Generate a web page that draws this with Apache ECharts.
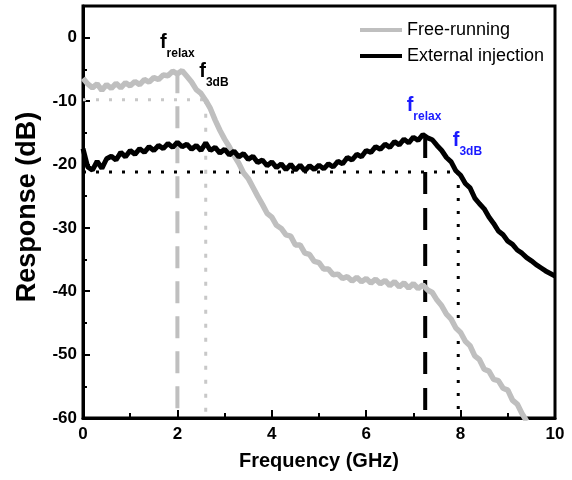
<!DOCTYPE html>
<html>
<head>
<meta charset="utf-8">
<script src="https://cdn.jsdelivr.net/npm/echarts@6/dist/echarts.min.js"></script>
<style>
  html, body { margin: 0; padding: 0; background: #fff; }
  #chart { width: 572px; height: 480px; }
</style>
</head>
<body>
<div id="chart"></div>
<script>
// Frequency response of the laser, free-running vs. under external injection
const freqStep = 0.1; // GHz between samples

// Free-running response (dB), sampled from 0 to 9.4 GHz
const freeRunning = [
  -6.4, -7.3, -7.9, -7.3, -8.3, -7.4, -8.0, -7.2, -7.9, -7.1,
  -7.6, -6.9, -7.4, -6.6, -7.0, -6.3, -6.6, -5.9, -6.0, -5.3,
  -5.7, -5.2, -6.1, -7.0, -8.2, -8.8, -9.9, -11.2, -13.0, -14.6,
  -16.0, -17.2, -18.6, -19.8, -21.3, -22.2, -23.6, -25.0, -26.3, -27.7,
  -28.3, -29.6, -30.1, -31.1, -31.3, -32.7, -32.7, -34.0, -34.2, -35.3,
  -35.5, -36.5, -36.5, -37.4, -37.3, -38.0, -37.7, -38.4, -37.8, -38.5,
  -38.0, -38.7, -38.1, -38.8, -38.3, -39.1, -38.5, -39.3, -38.7, -39.5,
  -38.8, -39.6, -39.0, -39.8, -40.2, -41.4, -42.3, -43.6, -44.4, -45.8,
  -46.5, -47.9, -48.6, -50.2, -50.8, -52.3, -52.6, -53.9, -54.1, -55.3,
  -55.6, -57.2, -57.8, -59.3, -60.5
];

// Response under external injection (dB), sampled from 0 to 10 GHz
const externalInjection = [
  -17.5, -20.4, -20.9, -19.5, -20.6, -19.1, -18.7, -19.3, -18.1, -18.8,
  -17.8, -18.4, -17.5, -18.1, -17.2, -17.8, -17.0, -17.5, -16.7, -17.3,
  -16.5, -17.2, -16.8, -17.6, -17.0, -17.8, -16.6, -17.8, -17.3, -18.2,
  -17.6, -18.5, -17.9, -18.8, -18.3, -19.2, -18.7, -19.7, -19.3, -20.2,
  -19.6, -20.5, -19.9, -20.8, -20.0, -20.9, -20.1, -21.0, -20.2, -20.8,
  -20.1, -20.7, -19.9, -20.4, -19.5, -19.9, -18.9, -19.3, -18.4, -18.8,
  -17.8, -18.1, -17.2, -17.6, -16.8, -17.3, -16.4, -16.9, -16.0, -16.6,
  -15.7, -16.2, -15.3, -15.8, -16.1, -17.0, -17.8, -18.9, -19.6, -21.0,
  -21.7, -23.0, -23.7, -25.3, -26.2, -27.0, -28.3, -29.3, -30.5, -31.1,
  -32.1, -32.6, -33.5, -34.0, -34.7, -35.2, -35.8, -36.3, -36.8, -37.2,
  -37.6
];

// Characteristic frequencies (GHz) and levels (dB)
const freeRelax = 2.0, freePeak = -5.3, free3dB = 2.6, free3dBLevel = -9.8;
const injRelax = 7.25, injPeak = -15.5, inj3dB = 7.95, inj3dBLevel = -21.2;

// Axis ticks
const xTicks = [0, 2, 4, 6, 8, 10];
const yMajorTicks = [-60, -50, -40, -30, -20, -10, 0];
const yMinorTicks = [-55, -45, -35, -25, -15, -5];

const seriesNames = ['Free-running', 'External injection'];

const FONT = '"Liberation Sans", Arial, sans-serif';
const GRAY = '#bfbfbf';
const BLUE = '#1a1aff';
const Y_MIN = -60, Y_MAX = 5;

const toPairs = arr => arr.map((v, i) => [Math.round(i * freqStep * 10) / 10, v]);

function fLabel(text, sub, color, dx, dy) {
  return {
    show: true,
    position: [dx, dy],
    align: 'left',
    verticalAlign: 'top',
    formatter: '{f|' + text + '}{s|' + sub + '}',
    rich: {
      f: { fontFamily: FONT, fontSize: 20, fontWeight: 'bold', color: color, lineHeight: 20, verticalAlign: 'top' },
      s: { fontFamily: FONT, fontSize: 12, fontWeight: 'bold', color: color, lineHeight: 12, verticalAlign: 'top', padding: [15, 0, 0, 0] }
    }
  };
}

function guide(points, color, width, dash) {
  return {
    type: 'line',
    data: points,
    symbol: 'none',
    silent: true,
    z: 1,
    lineStyle: { color: color, width: width, type: dash, cap: 'butt' }
  };
}

const chart = echarts.init(document.getElementById('chart'), null, { renderer: 'canvas' });

chart.setOption({
  animation: false,
  backgroundColor: '#fff',
  grid: {
    left: 83, right: 17, top: 6, bottom: 62,
    show: true, borderColor: '#000', borderWidth: 3, backgroundColor: 'transparent'
  },
  legend: {
    data: seriesNames.map(n => ({ name: n, icon: 'rect' })),
    orient: 'vertical',
    left: 360, top: 21,
    padding: 0,
    itemGap: 8,
    itemWidth: 42, itemHeight: 4,
    textStyle: { fontFamily: FONT, fontSize: 18, color: '#000', lineHeight: 18 }
  },
  xAxis: {
    type: 'value',
    min: 0, max: 10, interval: 2,
    name: 'Frequency (GHz)',
    nameLocation: 'middle',
    nameGap: 33,
    nameTextStyle: { fontFamily: FONT, fontSize: 20, fontWeight: 'bold', color: '#000' },
    axisLine: { show: true, onZero: false, lineStyle: { color: '#000', width: 3 } },
    axisTick: { show: true, inside: true, length: 8, lineStyle: { color: '#000', width: 2 } },
    minorTick: { show: true, splitNumber: 2, length: 5, lineStyle: { color: '#000', width: 2 } },
    axisLabel: {
      margin: 8, fontFamily: FONT, fontSize: 17, fontWeight: 'bold', color: '#000',
      formatter: v => (xTicks.includes(v) ? String(v) : '')
    },
    splitLine: { show: false }
  },
  yAxis: [
    {
      type: 'value',
      min: Y_MIN, max: Y_MAX, interval: 10,
      name: 'Response (dB)',
      nameLocation: 'middle',
      nameGap: 37,
      nameTextStyle: { fontFamily: FONT, fontSize: 27, fontWeight: 'bold', color: '#000', padding: [0, 0, 0, 10] },
      axisLine: { show: true, onZero: false, lineStyle: { color: '#000', width: 3 } },
      axisTick: { show: true, inside: true, length: 7, lineStyle: { color: '#000', width: 2 } },
      axisLabel: {
        margin: 6, fontFamily: FONT, fontSize: 17, fontWeight: 'bold', color: '#000',
        showMaxLabel: false,
        formatter: v => (yMajorTicks.includes(v) ? String(v) : '')
      },
      splitLine: { show: false }
    },
    {
      type: 'value',
      min: Y_MIN, max: Y_MAX,
      position: 'left',
      axisLine: { show: false },
      axisLabel: { show: false },
      axisTick: { show: true, inside: true, length: 4, customValues: yMinorTicks, lineStyle: { color: '#000', width: 2 } },
      splitLine: { show: false }
    }
  ],
  series: [
    // guide lines for the free-running response
    guide([[0, free3dBLevel], [free3dB, free3dBLevel]], '#c8c8c8', 3, [3, 10]),
    guide([[free3dB, free3dBLevel], [free3dB, Y_MIN]], '#c8c8c8', 3, [4, 10]),
    guide([[freeRelax, freePeak], [freeRelax, Y_MIN]], GRAY, 4, [22, 13]),
    // guide lines for the injected response
    guide([[0, inj3dBLevel], [inj3dB, inj3dBLevel]], '#000', 3, [3, 10]),
    guide([[inj3dB, inj3dBLevel], [inj3dB, Y_MIN]], '#000', 3, [3, 10]),
    guide([[injRelax, injPeak], [injRelax, Y_MIN]], '#000', 4, [22, 14]),
    {
      name: seriesNames[0],
      type: 'line',
      data: toPairs(freeRunning),
      symbol: 'none',
      z: 3,
      lineStyle: { color: GRAY, width: 5.5 },
      itemStyle: { color: GRAY },
      markPoint: {
        silent: true,
        symbol: 'circle', symbolSize: 1,
        itemStyle: { color: 'rgba(0,0,0,0)' },
        data: [
          { coord: [freeRelax, freePeak], label: fLabel('f', 'relax', '#000', -17, -38) },
          { coord: [free3dB, free3dBLevel], label: fLabel('f', '3dB', '#000', -6, -38) }
        ]
      }
    },
    {
      name: seriesNames[1],
      type: 'line',
      data: toPairs(externalInjection),
      symbol: 'none',
      z: 4,
      lineStyle: { color: '#000', width: 5 },
      itemStyle: { color: '#000' },
      markPoint: {
        silent: true,
        symbol: 'circle', symbolSize: 1,
        itemStyle: { color: 'rgba(0,0,0,0)' },
        data: [
          { coord: [injRelax, injPeak], label: fLabel('f', 'relax', BLUE, -18, -40) },
          { coord: [inj3dB, inj3dBLevel], label: fLabel('f', '3dB', BLUE, -5, -41) }
        ]
      }
    }
  ]
});
</script>
</body>
</html>
